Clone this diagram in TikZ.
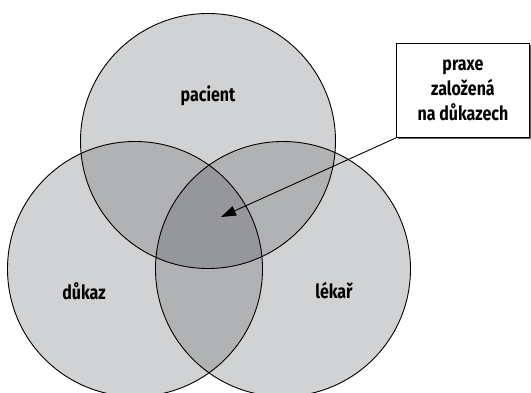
\documentclass[tikz,border=0pt]{standalone}
\usepackage{fontspec}
\setmainfont{Fira Sans}[FakeStretch=0.82]
\usetikzlibrary{arrows.meta}
\definecolor{cone}{RGB}{209,210,212}
\definecolor{ctwo}{RGB}{177,178,180}
\definecolor{cthree}{RGB}{150,151,154}
\definecolor{shadowgray}{RGB}{100,100,100}
\tikzset{
  label/.style={font=\bfseries\fontsize{19.5}{22}\selectfont, inner sep=0pt},
  outline/.style={draw=black, line width=0.9pt},
  boxstyle/.style={draw=black, line width=0.9pt, fill=white, minimum width=133pt, minimum height=94pt, align=center, inner sep=0pt, font=\bfseries\fontsize{19.5}{25}\selectfont},
  pointer/.style={draw=black, line width=0.9pt, -{Triangle[length=15pt,width=10pt]}}
}
\begin{document}
\begin{tikzpicture}[x=1pt,y=-1pt]
\useasboundingbox (0,0) rectangle (531,393);
\def\rr{127.5}
\coordinate (ct) at (208,141);
\coordinate (cl) at (135,269);
\coordinate (cr) at (283,269);
% single fills
\fill[cone] (ct) circle (\rr);
\fill[cone] (cl) circle (\rr);
\fill[cone] (cr) circle (\rr);
% double overlaps
\begin{scope}
  \clip (ct) circle (\rr);
  \fill[ctwo] (cl) circle (\rr);
  \fill[ctwo] (cr) circle (\rr);
\end{scope}
\begin{scope}
  \clip (cl) circle (\rr);
  \fill[ctwo] (cr) circle (\rr);
\end{scope}
% triple overlap
\begin{scope}
  \clip (ct) circle (\rr);
  \clip (cl) circle (\rr);
  \fill[cthree] (cr) circle (\rr);
\end{scope}
% outlines
\draw[outline] (ct) circle (\rr);
\draw[outline] (cl) circle (\rr);
\draw[outline] (cr) circle (\rr);
% labels
\node[label] (pacient) at (208,96) {pacient};
\node[label] (dukaz) at (84,291) {důkaz};
\node[label] (lekar) at (334,291) {lékař};
% box with shadow
\fill[shadowgray] (398,45) rectangle (531,139.5);
\node[boxstyle, anchor=north west] (box) at (396,43) {praxe\\založená\\na důkazech};
\coordinate (tip) at (221,217);
\draw[pointer] (box.south west) -- (tip);
\end{tikzpicture}
\end{document}
